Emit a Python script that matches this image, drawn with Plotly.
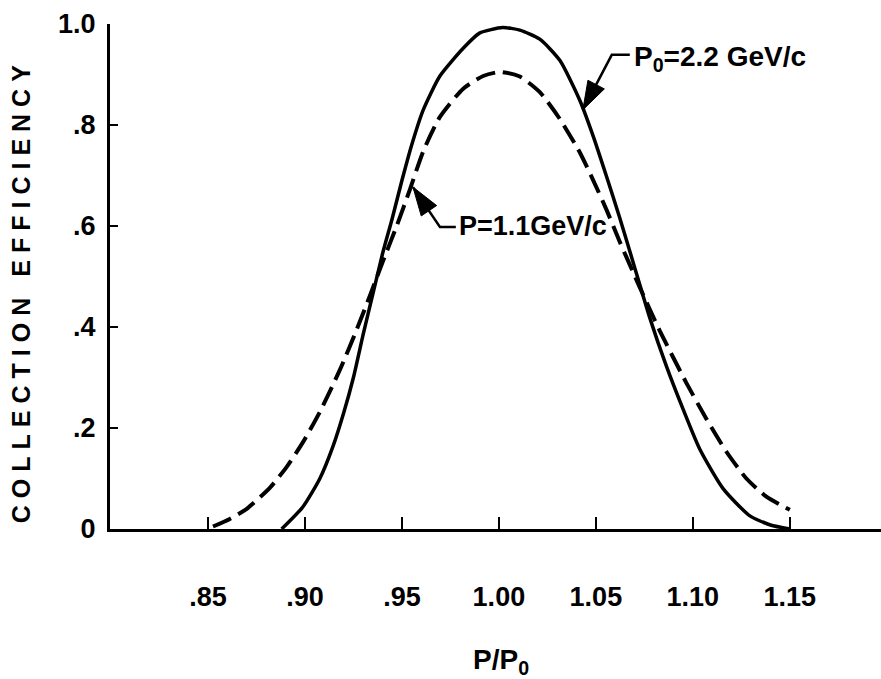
import plotly.graph_objects as go

# P0 = 2.2 GeV/c (solid)
p_solid = [0.888, 0.899, 0.9077, 0.9146, 0.920, 0.925, 0.930, 0.935, 0.940, 0.945,
           0.950, 0.955, 0.961, 0.9696, 0.9816, 0.990, 1.002, 1.0108, 1.0211, 1.0314,
           1.0418, 1.0487, 1.0555, 1.0624, 1.0675, 1.0727, 1.0778, 1.0864, 1.095, 1.1036,
           1.1156, 1.1294, 1.140, 1.15]
eff_solid = [0.0, 0.044, 0.10, 0.165, 0.23, 0.30, 0.385, 0.465, 0.545, 0.615,
             0.69, 0.76, 0.83, 0.897, 0.952, 0.982, 0.993, 0.988, 0.970, 0.928,
             0.848, 0.777, 0.698, 0.615, 0.55, 0.483, 0.418, 0.322, 0.237, 0.158,
             0.080, 0.026, 0.008, 0.0]

# P = 1.1 GeV/c (dashed)
p_dash = [0.8526, 0.8613, 0.870, 0.882, 0.8906, 0.899, 0.9077, 0.918, 0.9266, 0.9335,
          0.940, 0.9473, 0.9541, 0.961, 0.9696, 0.9816, 0.9919, 1.0005, 1.0108, 1.0211,
          1.0314, 1.0418, 1.0487, 1.0555, 1.0624, 1.0727, 1.083, 1.0967, 1.107, 1.1173,
          1.1276, 1.1379, 1.15]
eff_dash = [0.005, 0.02, 0.04, 0.082, 0.123, 0.172, 0.232, 0.315, 0.394, 0.462,
            0.528, 0.600, 0.672, 0.748, 0.816, 0.872, 0.897, 0.905, 0.896, 0.865,
            0.812, 0.745, 0.690, 0.632, 0.568, 0.478, 0.392, 0.289, 0.218, 0.153,
            0.100, 0.064, 0.038]

# label leaders: text end -> corner -> arrow tip
lead_p0_x = [1.0675, 1.0582, 1.0433]
lead_p0_y = [0.939, 0.939, 0.830]
lead_p_x = [0.9778, 0.9696, 0.9557]
lead_p_y = [0.598, 0.598, 0.677]

x_tickvals = [0.85, 0.90, 0.95, 1.00, 1.05, 1.10, 1.15]
x_ticktext = [".85", ".90", ".95", "1.00", "1.05", "1.10", "1.15"]
y_tickvals = [0, 0.2, 0.4, 0.6, 0.8, 1.0]
y_ticktext = ["0", ".2", ".4", ".6", ".8", "1.0"]

FONT = "Liberation Sans"
INK = "black"

fig = go.Figure()
fig.add_trace(go.Scatter(x=p_solid, y=eff_solid, mode="lines",
                         line=dict(color=INK, width=3.5, shape="spline", smoothing=0.6),
                         showlegend=False, hoverinfo="skip"))
fig.add_trace(go.Scatter(x=p_dash, y=eff_dash, mode="lines",
                         line=dict(color=INK, width=4, dash="20px,8px", shape="spline", smoothing=0.6),
                         showlegend=False, hoverinfo="skip"))

for lx, ly in ((lead_p0_x, lead_p0_y), (lead_p_x, lead_p_y)):
    fig.add_trace(go.Scatter(x=lx, y=ly, mode="lines+markers",
                             line=dict(color=INK, width=2.5),
                             marker=dict(symbol="arrow", angleref="previous",
                                         size=[0, 0, 30], color=INK, opacity=1,
                                         line=dict(width=1, color=INK)),
                             showlegend=False, hoverinfo="skip", cliponaxis=False))

fig.add_annotation(x=1.0685, y=0.932, text="P<sub>0</sub>=2.2 GeV/c", showarrow=False,
                   xanchor="left", yanchor="middle",
                   font=dict(family=FONT, size=28, color=INK, weight="bold"))
fig.add_annotation(x=0.9785, y=0.600, text="P=1.1GeV/c", showarrow=False,
                   xanchor="left", yanchor="middle",
                   font=dict(family=FONT, size=27, color=INK, weight="bold"))

# axis titles
fig.add_annotation(xref="x", yref="paper", x=1.001, y=-0.262, text="P/P<sub>0</sub>",
                   showarrow=False, xanchor="center", yanchor="middle",
                   font=dict(family=FONT, size=28, color=INK, weight="bold"))
fig.add_annotation(xref="paper", yref="paper", x=-0.116, y=0.472,
                   text='<span style="letter-spacing:7px">COLLECTION EFFICIENCY</span>',
                   textangle=-90, showarrow=False, xanchor="center", yanchor="middle",
                   font=dict(family=FONT, size=25, color=INK, weight="bold"))

fig.update_xaxes(range=[0.7995, 1.197], tickvals=x_tickvals, ticktext=x_ticktext,
                 ticks="inside", ticklen=12, tickwidth=2, tickcolor=INK,
                 showline=True, linecolor=INK, linewidth=3, showgrid=False, zeroline=False,
                 ticklabelstandoff=42,
                 tickfont=dict(family=FONT, size=27, color=INK, weight="bold"))
fig.update_yaxes(range=[0, 1.0], tickvals=y_tickvals, ticktext=y_ticktext,
                 ticks="inside", ticklen=8, tickwidth=2, tickcolor=INK,
                 showline=True, linecolor=INK, linewidth=3, showgrid=False, zeroline=False,
                 ticklabelstandoff=6,
                 tickfont=dict(family=FONT, size=27, color=INK, weight="bold"))

fig.update_layout(width=881, height=679, margin=dict(l=110, r=0, t=24, b=150),
                  plot_bgcolor="white", paper_bgcolor="white")

fig.write_html("out.html")
